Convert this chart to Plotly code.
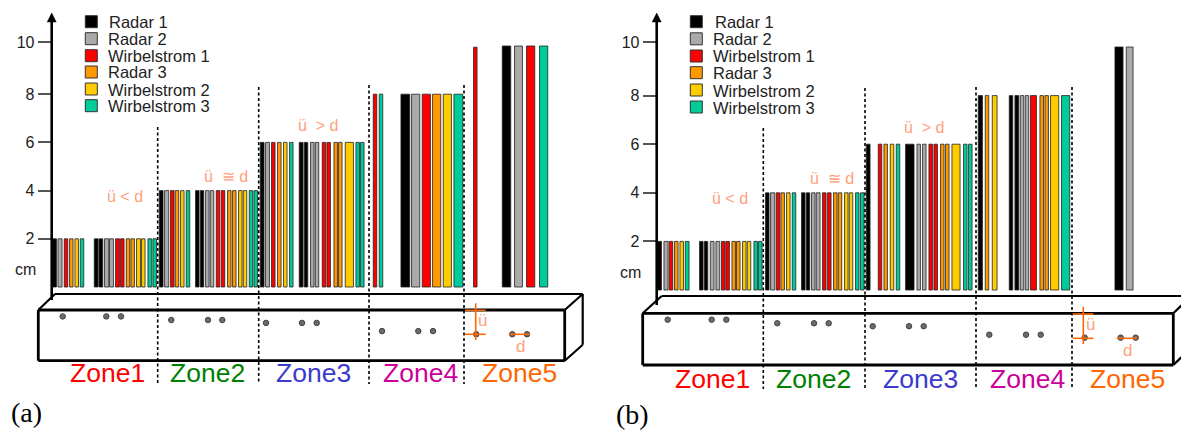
import plotly.graph_objects as go

W, H = 1181, 431
SERIES = ["Radar 1", "Radar 2", "Wirbelstrom 1", "Radar 3", "Wirbelstrom 2", "Wirbelstrom 3"]
COLORS = ["#000000", "#aaaaaa", "#ff0000", "#ff9900", "#ffcc00", "#00cc99"]
ZONES = ["Zone1", "Zone2", "Zone3", "Zone4", "Zone5"]
ZONE_COLORS = ["#ff0000", "#008000", "#3a3acc", "#cc0099", "#ff6600"]
Y_TICKS = ["2", "4", "6", "8", "10"]
Y_TICKVALS = [2, 4, 6, 8, 10.17]

# ---- panel (a): bar heights in cm
A_VALUES = [
    [2, 2, 2, 4, 4, 4, 6, 6, 6, 8, 10],
    [2, 2, 2, 4, 4, 4, 6, 6, 6, 8, 10],
    [2, 2, 2, 4, 4, 4, 6, 6, 6, 8, 8, 9.95, 10],
    [2, 2, 2, 4, 4, 4, 6, 6, 6, 8],
    [2, 2, 2, 4, 4, 4, 6, 6, 8],
    [2, 2, 2, 4, 4, 4, 6, 6, 6, 8, 8, 10],
]
# panel (a): left / right edges of each bar along the beam
A_LEFT = [
    [52, 94, 98.7, 159, 195.3, 200, 260, 299, 304, 400.7, 502],
    [57.7, 104.3, 109.3, 164.3, 205.3, 210, 265.3, 310.3, 315, 411.3, 514.3],
    [64, 115.3, 120.3, 170.3, 216, 221, 271.3, 322, 326.7, 373, 422, 473.3, 526.3],
    [69.3, 126, 130.7, 175, 227.3, 232.3, 277.3, 333.7, 338.3, 432.3],
    [74.7, 136.3, 141.3, 180.3, 238.3, 243, 283.3, 345, 443],
    [80, 147.7, 152.7, 186, 249, 253.7, 289.3, 355.7, 360.3, 379, 453.7, 539.3],
]
A_RIGHT = [
    [56.7, 98.3, 103, 163.3, 199.3, 204, 264.3, 303.3, 308, 410, 511],
    [62.3, 109, 113.7, 169, 209.3, 214, 269.7, 314.3, 319, 420, 522.7],
    [68, 119.7, 124.3, 174.3, 220, 225, 275.3, 326, 330.7, 377, 430.7, 477.3, 535],
    [73.3, 130, 134.7, 179, 231.3, 236.3, 281.3, 337.7, 342.3, 441],
    [78.7, 140.7, 145.3, 184.3, 242.3, 247, 287.3, 353.7, 451.7],
    [84, 152, 156.7, 190, 253, 257.7, 293.3, 359.7, 364.3, 383, 463, 548],
]
# ---- panel (b)
B_VALUES = [
    [2, 2, 2, 4, 4, 4, 6, 6, 8, 8, 8, 10],
    [2, 2, 2, 4, 4, 4, 6, 6, 8, 8, 10],
    [2, 2, 2, 4, 4, 4, 6, 6, 6, 8],
    [2, 2, 2, 4, 4, 4, 6, 6, 6, 8, 8, 8],
    [2, 2, 2, 4, 4, 4, 6, 6, 8, 8],
    [2, 2, 2, 4, 4, 4, 6, 6, 6, 8],
]
B_LEFT = [
    [656.7, 699.3, 704, 765.3, 801.3, 806, 866, 905.3, 978, 1009, 1014.7, 1114.7],
    [663.7, 710, 715.7, 770.3, 811.3, 816, 916.7, 922.3, 1020, 1025, 1126],
    [669, 721.3, 725.7, 776, 822.3, 827.3, 878, 928.7, 933.7, 1030.3],
    [674.3, 731.7, 736.3, 780.7, 833.3, 838, 883.7, 940.3, 945.3, 985, 1039.7, 1044.7],
    [679.7, 742.3, 747, 786.3, 844.3, 849, 890, 951.7, 992, 1050.3],
    [685, 753.7, 758.3, 792, 855.3, 860.3, 896, 963.3, 968.3, 1061.3],
]
B_RIGHT = [
    [661.7, 703.3, 708, 769.3, 805.3, 810, 870.3, 914.3, 982.7, 1013, 1019, 1123.3],
    [668.3, 714.3, 720, 775, 815.3, 820.3, 920.7, 926.3, 1024, 1029, 1133.3],
    [673, 725.3, 729.7, 780, 826.3, 831.3, 882, 932.7, 937.7, 1036.7],
    [678.3, 735.7, 740.3, 784.7, 837.3, 842, 887.7, 944.3, 949.3, 989, 1043.7, 1048.7],
    [683.7, 746.3, 751, 790.3, 848.3, 853, 894, 960.3, 997.3, 1059],
    [689.3, 757.7, 762.3, 796, 859.3, 864.3, 900, 967.3, 972.3, 1070],
]
# rebars drawn in the beam (along-beam position, depth on the cm axis)
A_REBAR_X = [62.7, 106.3, 121, 171.3, 208, 222.3, 266, 302, 316.7, 382, 418.3, 433, 476.3, 512.3, 527]
A_REBAR_Y = [-1.22, -1.22, -1.22, -1.37, -1.37, -1.37, -1.49, -1.49, -1.49, -1.83, -1.83, -1.83, -1.96, -1.96, -1.96]
B_REBAR_X = [667.7, 711.7, 726.3, 777.3, 814, 828.7, 872.7, 909, 923.7, 989.3, 1026, 1040.7, 1084.7, 1120.7, 1135.7]
B_REBAR_Y = [-1.22, -1.22, -1.22, -1.37, -1.37, -1.37, -1.49, -1.49, -1.49, -1.84, -1.84, -1.84, -1.96, -1.96, -1.96]

SANS = "Liberation Sans"
SERIF = "Liberation Serif"
SALMON = "#ffa07a"
ORANGE = "#ff6600"


def fx(x):
    return x / W


def fy(y):
    return 1 - y / H


fig = go.Figure()
for vals, lefts, rights, xa, ya in [
    (A_VALUES, A_LEFT, A_RIGHT, "x", "y"),
    (B_VALUES, B_LEFT, B_RIGHT, "x2", "y2"),
]:
    for i, name in enumerate(SERIES):
        xs = [(l + r) / 2 for l, r in zip(lefts[i], rights[i])]
        ws = [r - l - 0.5 for l, r in zip(lefts[i], rights[i])]
        fig.add_trace(go.Bar(
            x=xs, y=vals[i], width=ws, name=name, xaxis=xa, yaxis=ya, showlegend=False,
            marker=dict(color=COLORS[i], line=dict(color="#222222", width=0.8)),
        ))
for xs, ys, xa, ya in [(A_REBAR_X, A_REBAR_Y, "x", "y"), (B_REBAR_X, B_REBAR_Y, "x2", "y2")]:
    fig.add_trace(go.Scatter(
        x=xs, y=ys, mode="markers", xaxis=xa, yaxis=ya, showlegend=False,
        marker=dict(color="#6a6a6a", size=5.5, line=dict(color="#444444", width=1)),
    ))

shapes, annos = [], []


def line(x0, y0, x1, y1, color="#000000", width=2.0, dash=None):
    shapes.append(dict(type="line", xref="paper", yref="paper", x0=fx(x0), y0=fy(y0), x1=fx(x1), y1=fy(y1),
                       line=dict(color=color, width=width, dash=dash)))


def text(x, y, s, color="#222222", size=16, family=SANS, anchor="center"):
    annos.append(dict(xref="paper", yref="paper", x=fx(x), y=fy(y), text=s, showarrow=False,
                      xanchor=anchor, yanchor="middle", font=dict(family=family, size=size, color=color)))


def panel(ax, ytop, ybot, lx, ltext, lrows, cm, beam, dashes, zones, zy, cmps, ortho, dline, utext, dtext, tag):
    # value axis with arrow head
    line(ax, 20, ax, ybot, width=2.6)
    shapes.append(dict(type="path", xref="paper", yref="paper",
                       path=f"M {fx(ax)} {fy(ytop)} L {fx(ax - 4.5)} {fy(ytop + 9)} L {fx(ax + 4.5)} {fy(ytop + 9)} Z",
                       fillcolor="#000000", line=dict(color="#000000", width=0.5)))
    for j, name in enumerate(SERIES):
        shapes.append(dict(type="rect", xref="paper", yref="paper", x0=fx(lx), x1=fx(lx + 12), y0=fy(lrows[j] - 6), y1=fy(lrows[j] + 6),
                           fillcolor=COLORS[j], line=dict(color="#333333", width=1)))
        text(ltext + (1.4 if j == 0 else 0), lrows[j] + 0.5, name, size=16.5, anchor="left")
    text(cm[0], cm[1], "cm", size=16)
    # beam
    l, r, t, b, bx, by, dx = beam
    for p in [(l, t, r, t), (l, b, r, b), (l, t, l, b), (r, t, r, b)]:
        line(*p, width=2.8)
    line(l, t, bx, by, width=2.2)
    line(bx, by, r + dx, by, width=2.2)
    line(r, t, r + dx, by, width=2.2)
    line(r + dx, by, r + dx, b - (t - by), width=2.2)
    line(r, b, r + dx, b - (t - by), width=2.2)
    # zone separators
    for x, top, bot in dashes:
        line(x, top, x, bot, width=1.6, dash="3px,2.5px")
    for (zx, name, c) in zip(zones, ZONES, ZONE_COLORS):
        text(zx, zy, name, color=c, size=26.5)
    for (cx, cy), s in zip(cmps, ["ü &lt; d", "ü  ≅ d", "ü  &gt; d"]):
        text(cx, cy, s, color=SALMON, size=16)
    # cover / spacing markers
    ox0, ox1, oy0, oy1, vx, vy0, vy1 = ortho
    line(ox0, oy0, ox1, oy0, color=ORANGE, width=1.6)
    line(ox0, oy1, ox1, oy1, color=ORANGE, width=1.6)
    line(vx, vy0, vx, vy1, color=ORANGE, width=1.6)
    line(dline[0], dline[2], dline[1], dline[2], color=ORANGE, width=1.6)
    text(utext[0], utext[1], "ü", color=SALMON, size=17)
    text(dtext[0], dtext[1], "d", color=SALMON, size=17)
    text(tag[0], tag[1], tag[2], color="#000000", size=28, family=SERIF)


panel(51.7, 13, 300, 85.3, 106, [21.7, 38.7, 55.7, 72, 89, 105.7], (25.5, 269.5),
      (38.3, 564.7, 310, 360.7, 55, 294, 18),
      [(157.7, 127, 384), (258.7, 87, 384), (369, 85, 384), (464, 85, 384)],
      [107, 207, 313, 420, 519.5], 373,
      [(124.5, 196), (226, 176.7), (317.5, 125.7)],
      (465, 485.7, 310.3, 334.3, 475.7, 303.3, 340), (509.3, 530, 334.3),
      (482.7, 320.7), (520, 346.7), (26, 412, "(a)"))
panel(656.7, 13, 305, 690.3, 711.3, [21.7, 38.8, 56, 72.7, 90, 107], (630.5, 272.3),
      (642.7, 1173.3, 313.3, 365, 661.7, 296, 18),
      [(763.3, 128, 389), (865, 88, 389), (976, 87, 388), (1072, 87, 388)],
      [712, 813, 920, 1027, 1127.5], 379,
      [(730, 198.3), (832, 178.3), (924, 127.3)],
      (1072.7, 1093.3, 314, 338.3, 1083.3, 306.7, 344), (1116.7, 1137.3, 338.3),
      (1090.7, 324.3), (1127.7, 350), (632, 414.5, "(b)"))


def yaxis(scale_base, scale, pos, tickvals):
    return dict(domain=[0, 1], range=[(scale_base - H) / scale, scale_base / scale], anchor="free", position=pos,
                showgrid=False, zeroline=False, showline=False, ticks="outside", ticklen=14, tickwidth=1.6,
                tickcolor="#555555", tickvals=tickvals, ticktext=Y_TICKS,
                tickfont=dict(family=SANS, size=16, color="#222222"))


fig.update_layout(
    width=W, height=H, margin=dict(l=0, r=0, t=0, b=0), paper_bgcolor="white", plot_bgcolor="rgba(0,0,0,0)",
    barmode="overlay", showlegend=False,
    xaxis=dict(domain=[0, 590 / W], range=[0, 590], visible=False, anchor="y"),
    xaxis2=dict(domain=[600 / W, 1], range=[600, W], visible=False, anchor="y2"),
    yaxis=yaxis(287, 24.1, 51.7 / W, Y_TICKVALS),
    yaxis2=yaxis(290, 24.3, 656.7 / W, [2, 4, 6, 8, 10.19]),
    shapes=shapes, annotations=annos,
)
fig.write_html("out.html", post_script="document.body.style.margin='0';", config=dict(displayModeBar=False))
